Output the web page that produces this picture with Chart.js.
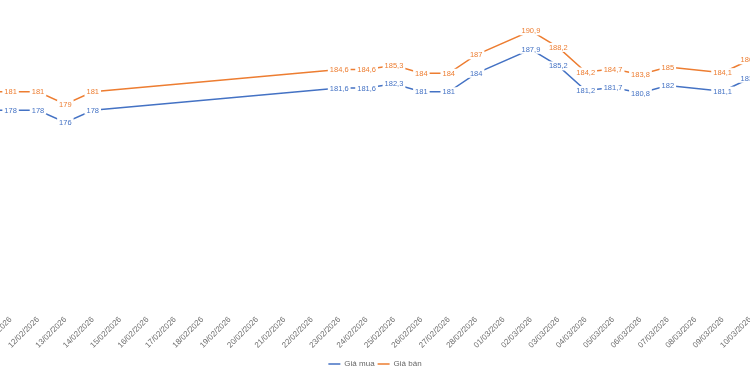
<!DOCTYPE html>
<html><head><meta charset="utf-8">
<script src="https://cdn.jsdelivr.net/npm/chart.js@4.4.0/dist/chart.umd.min.js"></script>
<style>
html,body{margin:0;padding:0;overflow:hidden;background:#fff;width:750px;height:375px}
#wrap{position:absolute;left:-40px;top:0;width:830px;height:375px}
</style></head>
<body><div id="wrap"><canvas id="c" width="830" height="375"></canvas></div>
<script>
const categories = ["10/02/2026","11/02/2026","12/02/2026","13/02/2026","14/02/2026","15/02/2026","16/02/2026","17/02/2026","18/02/2026","19/02/2026","20/02/2026","21/02/2026","22/02/2026","23/02/2026","24/02/2026","25/02/2026","26/02/2026","27/02/2026","28/02/2026","01/03/2026","02/03/2026","03/03/2026","04/03/2026","05/03/2026","06/03/2026","07/03/2026","08/03/2026","09/03/2026","10/03/2026"];
const giaMua = [178,178,178,176,178,null,null,null,null,null,null,null,null,181.6,181.6,182.3,181,181,184,null,187.9,185.2,181.2,181.7,180.8,182,null,181.1,183.2];
const giaBan = [181,181,181,179,181,null,null,null,null,null,null,null,null,184.6,184.6,185.3,184,184,187,null,190.9,188.2,184.2,184.7,183.8,185,null,184.1,186.2];
const seriesNames = ["Giá mua","Giá bán"];
const colors = ["#4472C4","#ED7D31"];

const valueLabels = {
  id:'valueLabels',
  afterDatasetsDraw(chart){
    const ctx = chart.ctx;
    ctx.save();
    ctx.font = '7.5px "Liberation Sans"';
    ctx.textAlign = 'center';
    ctx.textBaseline = 'middle';
    chart.data.datasets.forEach((ds,i)=>{
      const meta = chart.getDatasetMeta(i);
      meta.data.forEach((pt,j)=>{
        const v = ds.data[j];
        if (v == null) return;
        const t = String(v).replace('.', ',');
        const w = ctx.measureText(t).width;
        ctx.fillStyle = '#fff';
        ctx.fillRect(pt.x - w/2 - 2, pt.y - 4.5, w + 4, 9);
        ctx.fillStyle = ds.borderColor;
        ctx.fillText(t, pt.x, pt.y + 0.5);
      });
    });
    ctx.restore();
  }
};

new Chart(document.getElementById('c'), {
  type:'line',
  data:{
    labels: categories,
    datasets:[
      {label: seriesNames[0], data: giaMua, borderColor: colors[0], backgroundColor: colors[0], borderWidth:1.5, pointRadius:0, spanGaps:true, tension:0},
      {label: seriesNames[1], data: giaBan, borderColor: colors[1], backgroundColor: colors[1], borderWidth:1.5, pointRadius:0, spanGaps:true, tension:0}
    ]
  },
  options:{
    responsive:false,
    animation:false,
    devicePixelRatio:1,
    layout:{padding:{top:0,left:0,right:0,bottom:-3}},
    plugins:{
      tooltip:{enabled:false},
      legend:{
        position:'bottom',
        labels:{
          boxWidth:12, boxHeight:0, padding:3,
          color:'#666666',
          font:{size:8, family:'Liberation Sans'},
          generateLabels(chart){
            return chart.data.datasets.map((ds,i)=>({
              text: ds.label, fillStyle:'rgba(0,0,0,0)', strokeStyle: ds.borderColor,
              lineWidth:1.5, lineDash:[5,3], hidden:false, datasetIndex:i, fontColor:'#666666'
            }));
          }
        }
      }
    },
    scales:{
      x:{
        offset:false,
        grid:{display:false, drawTicks:false},
        border:{display:false},
        ticks:{autoSkip:false, maxRotation:45, minRotation:45, padding:4, color:'#6e6e6e', font:{size:8, family:'Liberation Sans'}},
        afterFit(s){ s.paddingLeft = 23.2; s.paddingRight = 40; s.height = 46; }
      },
      y:{display:false, min:145.4, max:195.9}
    }
  },
  plugins:[valueLabels]
});
</script>
</body></html>
